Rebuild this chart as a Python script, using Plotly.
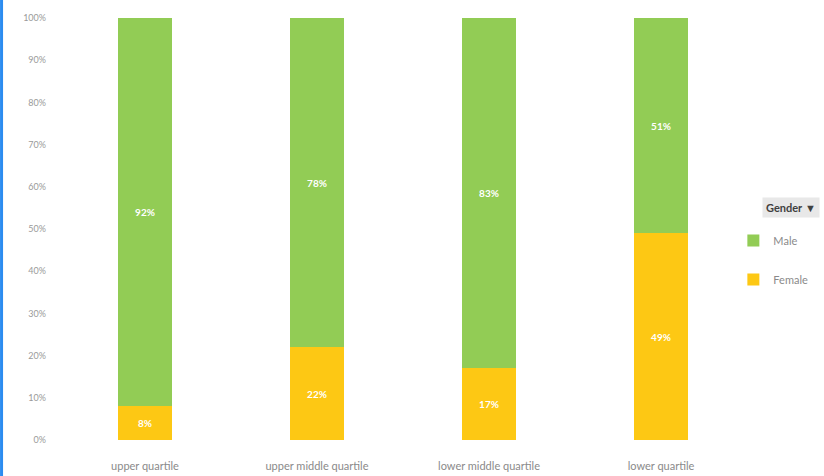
import plotly.graph_objects as go

categories = ["upper quartile", "upper middle quartile", "lower middle quartile", "lower quartile"]
female = [8, 22, 17, 49]
male = [92, 78, 83, 51]
y_ticks = [0, 10, 20, 30, 40, 50, 60, 70, 80, 90, 100]
y_tick_labels = [f"{v}%" for v in y_ticks]

FONT = "Lato, Open Sans, sans-serif"
GREEN = "#92cc55"
YELLOW = "#fdc814"

fig = go.Figure()
fig.add_trace(go.Bar(
    x=categories, y=female, name="Female", marker_color=YELLOW, marker_line_width=0,
    text=[f"<b>{v}%</b>" for v in female], textposition="inside", insidetextanchor="middle",
    textfont=dict(color="white", size=10, family=FONT), legendrank=2, legendgroup="f",
))
fig.add_trace(go.Bar(
    x=categories, y=male, name="Male", marker_color=GREEN, marker_line_width=0,
    text=[f"<b>{v}%</b>" for v in male], textposition="inside", insidetextanchor="middle",
    textfont=dict(color="white", size=10, family=FONT), legendrank=1, legendgroup="m",
))

fig.update_layout(
    width=824, height=476,
    barmode="stack", bargap=0.69,
    plot_bgcolor="white", paper_bgcolor="white",
    margin=dict(l=59, r=77, t=18, b=36, autoexpand=False),
    font=dict(family=FONT, color="#8a8a8a", size=11),
    showlegend=True,
    legend=dict(
        xref="container", yref="container",
        x=0.89, y=0.525, xanchor="left", yanchor="top",
        traceorder="grouped", tracegroupgap=20,
        font=dict(size=11, color="#8a8a8a", family=FONT),
        itemwidth=30, bgcolor="rgba(0,0,0,0)",
    ),
    annotations=[dict(
        text="<b>Gender</b> ▼", xref="paper", yref="paper",
        x=1.022, y=0.552, xanchor="left", yanchor="middle",
        showarrow=False, bgcolor="#e8e8e8",
        font=dict(size=11, color="#404040", family=FONT), borderpad=3,
    )],
    shapes=[dict(type="line", xref="paper", yref="paper",
                 x0=-0.0835, x1=-0.0835, y0=-0.1, y1=1.1,
                 line=dict(color="#2b8cf0", width=3))],
)
fig.update_xaxes(showgrid=False, showline=False, ticks="", ticklabelstandoff=18,
                 automargin=False, tickfont=dict(size=11, color="#8a8a8a"))
fig.update_yaxes(range=[0, 100], tickvals=y_ticks, ticktext=y_tick_labels,
                 showgrid=False, zeroline=False, showline=False, ticks="",
                 automargin=False,
                 ticklabelstandoff=12, tickfont=dict(size=9, color="#9a9a9a"))

fig.write_html("out.html", post_script="document.body.style.margin='0';",
               config={"displayModeBar": False})
